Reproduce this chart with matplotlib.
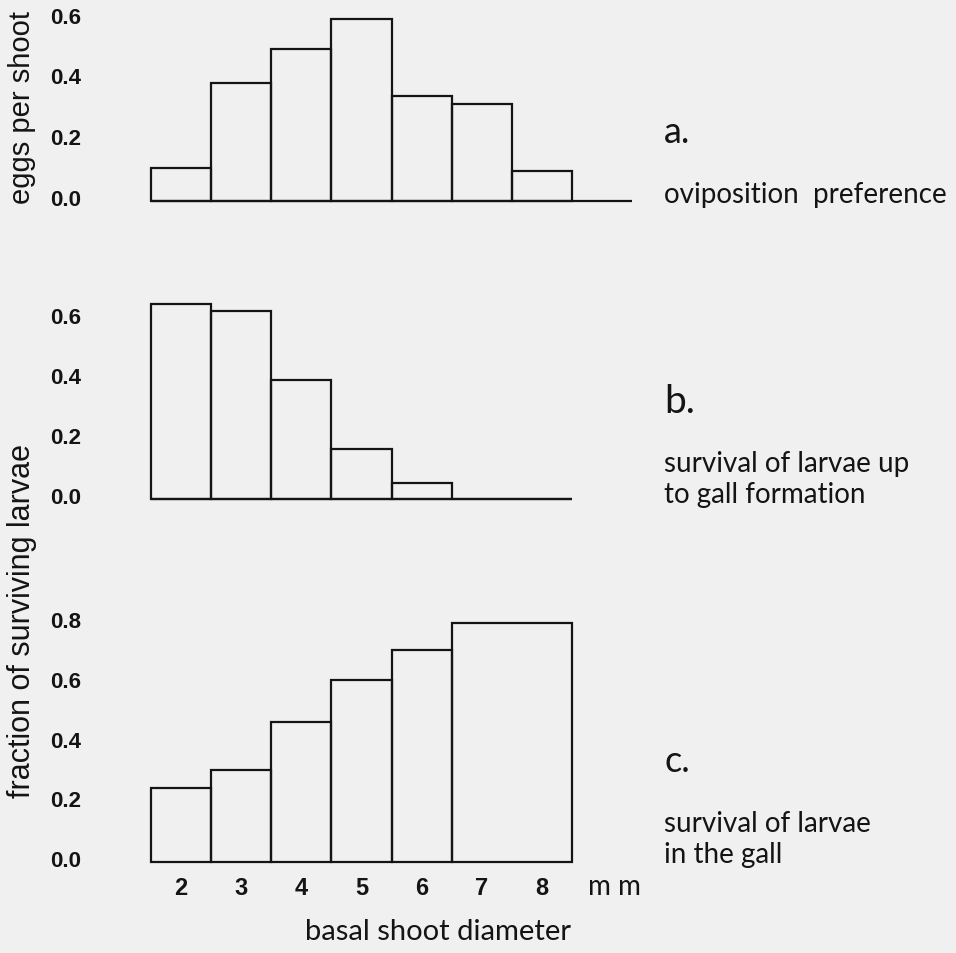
import matplotlib
matplotlib.use("Agg")
import matplotlib.pyplot as plt
from matplotlib.transforms import ScaledTranslation

# ---------------- data ----------------
diam_labels = ["2", "3", "4", "5", "6", "7", "8"]
diam_centers = [2, 3, 4, 5, 6, 7, 8]

# panel a: oviposition preference (eggs per shoot), one bin per mm class
a_left = [1.5, 2.5, 3.5, 4.5, 5.5, 6.5, 7.5]
a_width = [1, 1, 1, 1, 1, 1, 1]
a_eggs = [0.11, 0.39, 0.50, 0.60, 0.345, 0.32, 0.10]

# panel b: survival of larvae up to gall formation
b_left = [1.5, 2.5, 3.5, 4.5, 5.5, 6.5, 7.5]
b_width = [1, 1, 1, 1, 1, 1, 1]
b_surv = [0.65, 0.628, 0.397, 0.166, 0.052, 0.0, 0.0]

# panel c: survival of larvae in the gall (7-8 mm pooled)
c_left = [1.5, 2.5, 3.5, 4.5, 5.5, 6.5]
c_width = [1, 1, 1, 1, 1, 2]
c_surv = [0.25, 0.31, 0.47, 0.61, 0.71, 0.80]

a_ticks = [0.0, 0.2, 0.4, 0.6]
b_ticks = [0.0, 0.2, 0.4, 0.6]
c_ticks = [0.0, 0.2, 0.4, 0.6, 0.8]

a_baseline = (1.5, 9.5)
b_baseline = (1.5, 8.5)

# ---------------- style ----------------
BG = "#f0f0f0"
INK = "#141414"
LW = 1.6
TICKFONT = dict(family="Liberation Sans", size=16, weight="bold")
LABFONT = dict(family="Liberation Sans", size=21)
ANNFONT = "Lato"

fig = plt.figure(figsize=(9.56, 9.54), dpi=100, facecolor=BG)

W, H = 956.0, 954.0
left = 151 / W
width = (632 - 151) / W

ax_a = fig.add_axes([left, 1 - 202 / H, width, 182 / H])
ax_b = fig.add_axes([left, 1 - 500 / H, width, 180 / H])
ax_c = fig.add_axes([left, 1 - 863.3 / H, width, 239 / H])

panels = [
    (ax_a, a_left, a_width, a_eggs, a_ticks, 0.6),
    (ax_b, b_left, b_width, b_surv, b_ticks, 0.6),
    (ax_c, c_left, c_width, c_surv, c_ticks, 0.8),
]

for ax, lefts, widths, vals, ticks, ymax in panels:
    ax.set_facecolor(BG)
    ax.bar(lefts, vals, width=widths, align="edge", facecolor="none",
           edgecolor=INK, linewidth=LW, clip_on=False)
    ax.set_xlim(1.5, 9.5)
    ax.set_ylim(0, ymax)
    for s in ax.spines.values():
        s.set_visible(False)
    ax.set_yticks(ticks)
    ax.set_yticklabels([f"{t:.1f}" for t in ticks], fontdict=TICKFONT)
    ax.tick_params(axis="y", length=0, pad=50, colors=INK)
    for lab in ax.get_yticklabels():
        lab.set_transform(lab.get_transform() +
                          ScaledTranslation(0, 3 / 72, fig.dpi_scale_trans))
    ax.set_xticks([])

ax_a.hlines(0, a_baseline[0], a_baseline[1], color=INK, lw=LW, clip_on=False)
ax_b.hlines(0, b_baseline[0], b_baseline[1], color=INK, lw=LW, clip_on=False)

# x ticks on bottom panel
ax_c.set_xticks(diam_centers)
ax_c.set_xticklabels(diam_labels, fontdict=dict(family="Liberation Sans", size=17, weight="bold"))
ax_c.tick_params(axis="x", length=0, pad=10, colors=INK)
ax_c.text(9.2, -24 / 239 * 0.8, "m m", ha="center", va="center",
          fontsize=20, family=ANNFONT, color=INK, clip_on=False)

# axis labels
ax_a.set_ylabel("eggs per shoot", fontdict=LABFONT, color=INK)
ax_a.yaxis.label.set_va("center")
ax_a.yaxis.set_label_coords((22 - 151) / (632 - 151), (202 - 108) / 182)

fig.text(22 / W, 1 - 621 / H, "fraction of surviving larvae", rotation=90,
         ha="center", va="center", color=INK, family="Liberation Sans", size=22)

fig.text(438 / W, 1 - 940 / H, "basal shoot diameter", ha="center",
         va="baseline", family=ANNFONT, fontsize=21, color=INK)

# right-side annotations
x0 = 664 / W
fig.text(x0, 1 - 143 / H, "a.", family=ANNFONT, fontsize=26, color=INK, va="baseline")
fig.text(x0, 1 - 203 / H, "oviposition  preference", family=ANNFONT, fontsize=20,
         color=INK, va="baseline")
fig.text(x0, 1 - 413 / H, "b.", family=ANNFONT, fontsize=28, color=INK, va="baseline")
fig.text(x0, 1 - 472 / H, "survival of larvae up", family=ANNFONT, fontsize=20,
         color=INK, va="baseline")
fig.text(x0, 1 - 503 / H, "to gall formation", family=ANNFONT, fontsize=20,
         color=INK, va="baseline")
fig.text(x0, 1 - 772 / H, "c.", family=ANNFONT, fontsize=26, color=INK, va="baseline")
fig.text(x0, 1 - 832 / H, "survival of larvae", family=ANNFONT, fontsize=20,
         color=INK, va="baseline")
fig.text(x0, 1 - 863 / H, "in the gall", family=ANNFONT, fontsize=20,
         color=INK, va="baseline")

fig.savefig("out.png", dpi=100, facecolor=BG)
